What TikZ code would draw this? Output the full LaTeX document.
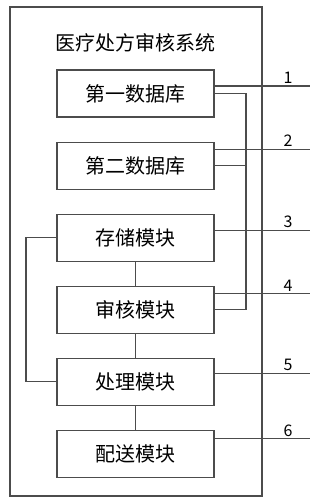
\documentclass[tikz,border=0pt]{standalone}
\usepackage{fontspec}
\setmainfont{Noto Sans CJK SC}
\usetikzlibrary{positioning}

\begin{document}
\begin{tikzpicture}[
    x=1pt, y=-1pt,
    node distance=24pt,
    modulo/.style={
        rectangle,
        draw=black!70,
        line width=1.1pt,
        minimum width=157pt,
        minimum height=47pt,
        inner sep=0pt,
        font=\fontsize{20}{22}\selectfont
    },
    enlace/.style={draw=black!70, line width=1.1pt},
    num/.style={font=\fontsize{16}{18}\selectfont, anchor=south, inner sep=1pt}
]
\useasboundingbox (0,0) rectangle (318,503);

% marco del sistema
\draw[enlace] (10,7) rectangle (262,496);
\node[font=\fontsize{20}{22}\selectfont] (titulo) at (135.5,43) {医疗处方审核系统};

\node[modulo] (m1) at (135.5,93.5) {第一数据库};
\node[modulo, below=of m1] (m2) {第二数据库};
\node[modulo, below=of m2] (m3) {存储模块};
\node[modulo, below=of m3] (m4) {审核模块};
\node[modulo, below=of m4] (m5) {处理模块};
\node[modulo, below=of m5] (m6) {配送模块};

\coordinate (bus) at (246,0);
\coordinate (lbus) at (26,0);
\coordinate (borde) at (310,0);

% conexiones internas
\draw[enlace] (m1.east) -- (m1.east -| bus) |- (m4.east);
\draw[enlace] (m2.east) -- (m2.east -| bus);
\draw[enlace] (m3.west) -- (m3.west -| lbus) |- (m5.west);
\draw[enlace] (m3) -- (m4);
\draw[enlace] (m4) -- (m5);
\draw[enlace] (m5) -- (m6);

% lineas de referencia
\coordinate (r1) at ([yshift=7.5pt]m1.east -| borde);
\coordinate (r2) at ([yshift=16.5pt]m2.east -| borde);
\coordinate (r3) at ([yshift=7.5pt]m3.east -| borde);
\coordinate (r4) at ([yshift=16pt]m4.east -| borde);
\coordinate (r5) at ([yshift=8.5pt]m5.east -| borde);
\coordinate (r6) at ([yshift=15.5pt]m6.east -| borde);

\draw[enlace] ([yshift=7.5pt]m1.east) -- (r1);
\draw[enlace] ([yshift=16.5pt]m2.east) -- (r2);
\draw[enlace] ([yshift=7.5pt]m3.east) -- (r3);
\draw[enlace] ([yshift=16pt]m4.east) -- (r4);
\draw[enlace] ([yshift=8.5pt]m5.east) -- (r5);
\draw[enlace] ([yshift=15.5pt]m6.east) -- (r6);

\node[num] (n1) at ([xshift=-22pt,yshift=1pt]r1) {1};
\node[num] (n2) at ([xshift=-22pt,yshift=1pt]r2) {2};
\node[num] (n3) at ([xshift=-22pt,yshift=1pt]r3) {3};
\node[num] (n4) at ([xshift=-22pt,yshift=1pt]r4) {4};
\node[num] (n5) at ([xshift=-22pt,yshift=1pt]r5) {5};
\node[num] (n6) at ([xshift=-22pt,yshift=1pt]r6) {6};

\end{tikzpicture}
\end{document}
